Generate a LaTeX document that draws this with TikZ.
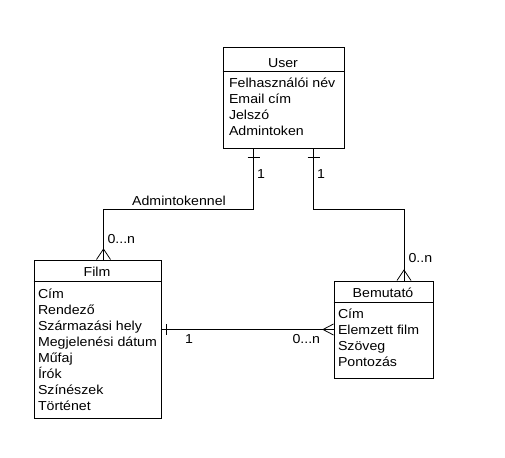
\documentclass[tikz,border=0pt]{standalone}
\usepackage{fontspec}
\setmainfont{Liberation Sans}[FakeStretch=1.09]
\begin{document}
\begin{tikzpicture}[x=1pt,y=-1pt,line width=1pt,
  ent/.style={draw=black,fill=white,rectangle,inner sep=0pt,anchor=north west},
  txt/.style={inner sep=0pt,anchor=base west,font=\fontsize{13}{15}\selectfont},
  hdr/.style={inner sep=0pt,anchor=base,font=\fontsize{13}{15}\selectfont},
  lbl/.style={inner sep=0pt,font=\fontsize{13}{15}\selectfont},
  conn/.style={draw=black,line width=0.8pt}]
\useasboundingbox[fill=white] (0,0) rectangle (505,457);
% User
\node[ent,minimum width=121pt,minimum height=101pt] (user) at (222.5,47.5) {};
\draw (222.5,72) -- (343.5,72);
\node[hdr] (userh) at (283,68) {User};
\foreach \t [count=\i] in {Felhasználói név,Email cím,Jelszó,Admintoken}
  \node[txt] (ua\i) at (228.5,72+16*\i) {\t};
% Film
\node[ent,minimum width=127pt,minimum height=158pt] (film) at (33.5,259.5) {};
\draw (33.5,281) -- (160.5,281);
\node[hdr] (filmh) at (97,276) {Film};
\foreach \t [count=\i] in {Cím,Rendező,Származási hely,Megjelenési dátum,Műfaj,Írók,Színészek,Történet}
  \node[txt] (fa\i) at (37.5,282+16*\i) {\t};
% Bemutato
\node[ent,minimum width=99pt,minimum height=97pt] (bem) at (333.5,280.5) {};
\draw (333.5,302) -- (432.5,302);
\node[hdr] (bemh) at (383,297) {Bemutató};
\foreach \t [count=\i] in {Cím,Elemzett film,Szöveg,Pontozás}
  \node[txt] (ba\i) at (337.5,302+16*\i) {\t};
% connection points
\coordinate (u1) at (253.5,148.5);
\coordinate (u2) at (313.5,148.5);
\coordinate (f1) at (103.5,259.5);
\coordinate (b1) at (404,280.5);
\coordinate (f2) at (160.5,329.5);
\coordinate (b2) at (333.5,329.5);
% User - Film
\draw[conn] (u1) -- (253.5,209.5) -- (103.5,209.5) -- (f1);
\draw[conn] (247.5,157) -- (259.5,157);
\draw[conn] (96.5,259.5) -- (103.5,249) -- (110.5,259.5);
\node[lbl] (l1) at (261,174) {1};
\node[lbl,anchor=base] (l2) at (179,205) {Admintokennel};
\node[lbl,anchor=west] (l3) at (107,239) {0...n};
% User - Bemutato
\draw[conn] (u2) -- (313.5,209.5) -- (404,209.5) -- (b1);
\draw[conn] (307.5,157) -- (319.5,157);
\draw[conn] (397,280.5) -- (404,270) -- (411,280.5);
\node[lbl] (l4) at (321,174) {1};
\node[lbl,anchor=west] (l5) at (408,258) {0..n};
% Film - Bemutato
\draw[conn] (f2) -- (b2);
\draw[conn] (166,324) -- (166,335);
\draw[conn] (333.5,324) -- (323,329.5) -- (333.5,335);
\node[lbl] (l6) at (189,339) {1};
\node[lbl,anchor=west] (l7) at (292,339) {0...n};
\end{tikzpicture}
\end{document}
